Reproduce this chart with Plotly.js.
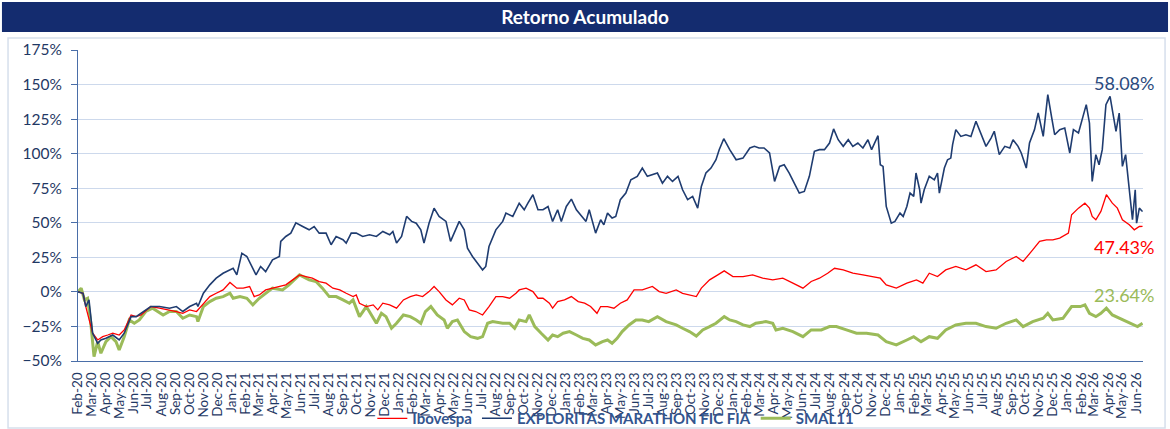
<!DOCTYPE html>
<html>
<head>
<meta charset="utf-8">
<script src="https://cdn.plot.ly/plotly-3.0.1.min.js"></script>
<style>
  html, body { margin: 0; padding: 0; background: #fff; }
  #chart { width: 1170px; height: 429px; }
</style>
</head>
<body>
<div id="chart"></div>
<script>
// [months since 1 Feb 2020, cumulative return %]
const ibovespa = [
  [0, 0], [0.38, -1.0], [0.62, -10.6], [1.10, -29.9], [1.46, -34.8], [1.82, -32.4], [2.18, -31.2], [2.54, -29.9],
  [3.02, -31.2], [3.37, -27.5], [3.85, -16.7], [4.21, -17.9], [4.57, -16.7], [5.29, -10.6], [5.89, -11.8], [6.60, -13.0],
  [7.08, -14.2], [7.56, -15.5], [8.04, -13.0], [8.52, -14.2], [9.00, -8.2], [9.48, -3.4], [9.95, -1.0], [10.43, 1.4],
  [10.91, 6.8], [11.39, 2.7], [11.87, 2.7], [12.35, 3.9], [12.71, -3.4], [13.07, -2.2], [13.54, 1.4], [14.02, 2.7],
  [14.50, 3.9], [14.98, 5.1], [15.46, 8.7], [15.94, 12.3], [16.42, 11.1], [16.89, 9.9], [17.37, 7.5], [17.85, 6.3],
  [18.33, 2.7], [18.81, 1.4], [19.29, -1.0], [19.77, -3.4], [20.01, -2.2], [20.25, -8.2], [20.72, -10.6], [21.20, -9.4],
  [21.56, -13.0], [21.92, -8.2], [22.40, -9.4], [22.88, -11.8], [23.36, -5.8], [23.84, -3.4], [24.31, -2.2], [24.79, -3.4],
  [25.27, 0.2], [25.63, 3.9], [25.99, 0.2], [26.47, -5.8], [26.95, -9.4], [27.42, -4.6], [27.78, -5.8], [28.14, -13.0],
  [28.62, -14.2], [29.10, -16.7], [29.58, -10.6], [30.05, -3.4], [30.53, -3.4], [31.01, -4.6], [31.49, -1.0], [31.73, 1.4],
  [32.21, 2.7], [32.69, 0.2], [33.05, -4.6], [33.41, -4.6], [33.89, -8.2], [34.12, -11.8], [34.48, -7.0], [34.96, -5.8],
  [35.44, -3.4], [35.92, -7.0], [36.40, -8.2], [36.88, -10.6], [37.35, -15.5], [37.59, -10.6], [38.07, -10.6], [38.55, -11.8],
  [39.03, -8.2], [39.51, -5.8], [39.99, 1.4], [40.59, 1.4], [41.30, 3.9], [41.78, 0.2], [42.26, -1.0], [42.98, 1.4],
  [43.46, -1.0], [43.94, -2.2], [44.42, -3.4], [44.78, 2.7], [45.37, 8.7], [45.97, 12.3], [46.45, 15.2], [47.05, 11.1],
  [47.77, 11.1], [48.48, 12.3], [49.20, 9.9], [49.92, 8.7], [50.64, 9.9], [51.36, 6.3], [52.07, 2.7], [52.67, 7.5],
  [53.27, 9.9], [53.87, 13.5], [54.35, 17.1], [54.94, 15.9], [55.66, 13.5], [56.38, 12.3], [57.10, 11.1], [57.63, 9.9],
  [58.05, 5.1], [58.77, 2.7], [59.49, 6.3], [60.21, 8.7], [60.69, 6.3], [61.17, 13.5], [61.77, 11.1], [62.36, 15.9],
  [63.08, 18.4], [63.80, 15.9], [64.51, 19.6], [65.23, 14.7], [65.95, 15.9], [66.67, 22.0], [67.39, 25.6], [67.87, 22.0],
  [68.58, 30.4], [69.06, 36.5], [69.54, 37.7], [70.02, 37.7], [70.50, 38.9], [71.10, 42.5], [71.34, 55.8], [71.82, 60.6],
  [72.29, 64.2], [72.65, 60.6], [72.89, 54.6], [73.13, 52.2], [73.49, 58.2], [73.90, 70.3], [74.33, 64.2], [74.69, 60.6],
  [75.05, 52.2], [75.53, 48.5], [75.89, 44.9], [76.25, 47.3], [76.49, 47.4]
];

const exploritas = [
  [0, 0], [0.38, -1.0], [0.62, -10.6], [0.86, -5.8], [1.10, -29.9], [1.46, -37.2], [1.70, -34.8], [2.06, -33.6],
  [2.54, -31.2], [3.02, -34.8], [3.37, -29.9], [3.85, -17.9], [4.21, -17.9], [4.57, -15.5], [5.29, -10.6], [5.89, -10.6],
  [6.60, -11.8], [7.08, -10.6], [7.56, -14.2], [8.04, -10.6], [8.52, -8.2], [8.64, -10.6], [9.00, -1.0], [9.48, 5.1],
  [9.95, 9.9], [10.43, 13.5], [11.15, 17.1], [11.39, 12.3], [11.75, 28.0], [12.11, 25.6], [12.47, 18.4], [12.83, 12.3],
  [13.19, 18.4], [13.54, 14.7], [14.02, 23.2], [14.50, 25.6], [14.62, 36.5], [14.98, 40.1], [15.34, 42.5], [15.70, 50.0],
  [16.18, 47.3], [16.66, 44.9], [17.01, 47.3], [17.37, 42.5], [17.85, 42.5], [18.21, 34.1], [18.57, 40.1], [19.05, 37.7],
  [19.29, 35.3], [19.65, 42.5], [20.01, 42.5], [20.48, 40.1], [20.96, 41.3], [21.44, 40.1], [21.92, 43.7], [22.40, 41.3],
  [22.64, 43.7], [22.88, 35.3], [23.24, 40.1], [23.60, 54.6], [23.95, 51.0], [24.31, 49.7], [24.67, 44.9], [24.91, 35.3],
  [25.27, 49.7], [25.63, 60.6], [25.99, 54.6], [26.47, 51.0], [26.83, 36.5], [27.18, 44.9], [27.42, 51.0], [27.78, 44.9],
  [28.02, 31.6], [28.38, 25.6], [28.74, 20.8], [29.10, 15.9], [29.34, 18.4], [29.58, 32.8], [30.05, 44.9], [30.53, 51.0],
  [30.77, 57.0], [31.25, 54.6], [31.73, 64.2], [32.09, 59.4], [32.33, 64.2], [32.69, 70.3], [33.05, 59.4], [33.41, 59.4],
  [33.77, 61.8], [34.12, 51.0], [34.48, 59.4], [34.72, 51.0], [35.08, 61.8], [35.44, 67.1], [35.80, 59.4], [36.16, 54.6],
  [36.52, 51.0], [36.76, 59.4], [37.24, 42.5], [37.59, 52.2], [37.83, 48.5], [38.07, 57.0], [38.43, 53.4], [38.67, 54.6],
  [39.03, 66.7], [39.39, 71.5], [39.75, 81.1], [40.23, 83.6], [40.59, 89.6], [40.95, 83.6], [41.30, 84.8], [41.66, 86.0],
  [42.02, 78.7], [42.38, 83.6], [42.74, 79.9], [43.10, 83.6], [43.46, 73.9], [43.82, 66.7], [44.18, 69.1], [44.54, 60.6],
  [44.78, 76.3], [45.13, 86.0], [45.49, 89.6], [45.85, 95.6], [46.09, 102.9], [46.40, 110.8], [46.81, 102.9], [47.29, 95.6],
  [47.77, 96.8], [48.25, 104.1], [48.60, 105.3], [48.96, 104.1], [49.32, 104.1], [49.68, 100.5], [50.04, 79.9], [50.40, 90.8],
  [50.76, 92.0], [51.12, 86.0], [51.48, 78.7], [51.83, 71.5], [52.19, 72.7], [52.55, 83.6], [52.91, 101.7], [53.27, 102.9],
  [53.63, 102.9], [53.99, 107.7], [54.28, 117.9], [54.59, 110.1], [54.94, 105.3], [55.30, 110.1], [55.66, 105.3], [56.02, 107.7],
  [56.38, 104.1], [56.74, 110.1], [56.98, 102.9], [57.34, 111.3], [57.46, 113.0], [57.63, 92.0], [57.82, 90.8], [58.05, 61.8],
  [58.41, 49.7], [58.65, 51.0], [59.01, 57.0], [59.25, 54.6], [59.49, 61.8], [59.73, 71.5], [59.97, 69.1], [60.16, 86.0],
  [60.45, 73.9], [60.57, 64.2], [60.81, 73.9], [61.17, 83.6], [61.53, 81.1], [61.77, 86.0], [61.88, 71.5], [62.24, 89.6],
  [62.48, 95.6], [62.72, 96.8], [62.84, 106.5], [63.08, 117.4], [63.44, 112.5], [63.80, 113.7], [64.16, 112.5], [64.51, 123.4],
  [64.87, 113.7], [65.23, 105.3], [65.59, 111.3], [65.83, 116.2], [66.19, 99.3], [66.55, 105.3], [66.91, 104.1], [67.15, 110.1],
  [67.51, 105.3], [67.75, 100.5], [68.10, 89.6], [68.34, 107.7], [68.70, 117.4], [68.94, 129.4], [69.30, 112.5], [69.66, 142.7],
  [69.90, 127.0], [70.14, 113.7], [70.50, 117.4], [70.86, 118.6], [71.22, 100.5], [71.46, 117.4], [71.82, 115.0], [72.17, 127.0],
  [72.41, 135.5], [72.65, 122.2], [72.89, 79.9], [73.13, 99.3], [73.37, 92.0], [73.61, 102.9], [73.85, 135.5], [74.14, 141.5],
  [74.45, 124.6], [74.57, 116.2], [74.81, 129.4], [75.05, 90.8], [75.29, 99.3], [75.48, 78.7], [75.65, 61.8], [75.77, 52.2],
  [75.94, 73.9], [76.06, 49.7], [76.25, 60.6], [76.49, 58.1]
];

const smal11 = [
  [0, 0], [0.26, 2.7], [0.50, -5.8], [0.74, -4.6], [0.98, -22.7], [1.22, -46.9], [1.46, -36.0], [1.70, -44.4],
  [2.06, -36.0], [2.42, -32.4], [2.78, -36.0], [3.02, -42.0], [3.37, -32.4], [3.73, -20.3], [4.09, -22.7], [4.45, -20.3],
  [4.93, -14.2], [5.41, -11.8], [6.13, -16.7], [6.60, -14.2], [7.08, -14.2], [7.56, -19.1], [8.04, -16.7], [8.52, -17.9],
  [8.64, -21.5], [9.00, -10.6], [9.48, -7.0], [9.95, -4.6], [10.43, -3.4], [10.91, -1.0], [11.15, -4.6], [11.63, -3.4],
  [12.11, -4.6], [12.59, -9.4], [13.07, -4.6], [13.54, -1.0], [14.02, 2.7], [14.74, 1.4], [15.22, 5.1], [15.94, 12.3],
  [16.66, 8.7], [17.13, 7.5], [17.61, 2.7], [18.09, -3.4], [18.57, -3.4], [19.05, -5.8], [19.53, -8.2], [19.77, -5.8],
  [20.25, -17.9], [20.72, -10.6], [21.08, -16.7], [21.44, -22.7], [21.80, -15.5], [22.16, -17.9], [22.52, -26.3], [22.88, -22.7],
  [23.36, -16.7], [23.84, -17.9], [24.31, -20.3], [24.67, -22.7], [25.03, -14.2], [25.39, -10.6], [25.87, -16.7], [26.35, -20.3],
  [26.59, -26.3], [26.95, -21.5], [27.30, -20.3], [27.78, -28.7], [28.26, -32.4], [28.74, -33.6], [29.10, -32.4], [29.46, -22.7],
  [29.82, -21.5], [30.53, -22.7], [31.01, -22.7], [31.37, -26.3], [31.73, -20.3], [32.21, -21.5], [32.45, -16.7], [32.81, -25.1],
  [33.29, -29.9], [33.77, -34.8], [34.12, -31.2], [34.48, -32.4], [34.84, -29.9], [35.32, -28.7], [35.80, -31.2], [36.28, -33.6],
  [36.76, -34.8], [37.24, -38.4], [37.71, -36.0], [38.07, -34.8], [38.43, -37.2], [38.79, -33.6], [39.15, -28.7], [39.63, -23.9],
  [40.10, -20.3], [40.59, -20.3], [41.06, -21.5], [41.66, -17.9], [42.26, -21.5], [42.98, -23.9], [43.46, -26.3], [43.94, -28.7],
  [44.42, -31.9], [44.90, -27.5], [45.37, -25.1], [45.85, -22.7], [46.45, -17.9], [46.81, -20.3], [47.29, -21.5], [47.77, -23.9],
  [48.25, -25.1], [48.72, -22.7], [49.44, -21.5], [49.92, -22.7], [50.16, -27.5], [50.64, -26.3], [51.36, -28.7], [52.07, -32.4],
  [52.67, -27.5], [53.39, -27.5], [53.99, -25.1], [54.47, -25.1], [55.18, -27.5], [55.90, -29.9], [56.62, -29.9], [57.46, -31.2],
  [58.05, -36.0], [58.77, -38.4], [59.49, -34.8], [59.97, -32.4], [60.57, -36.0], [61.17, -32.4], [61.77, -33.6], [62.36, -27.5],
  [63.08, -23.9], [63.80, -22.7], [64.51, -22.7], [65.23, -25.1], [65.95, -26.3], [66.67, -22.7], [67.39, -20.3], [67.87, -25.1],
  [68.58, -21.5], [69.30, -19.1], [69.66, -15.5], [70.02, -20.3], [70.74, -19.1], [71.34, -10.6], [71.94, -10.6], [72.29, -9.4],
  [72.65, -15.5], [73.13, -17.9], [73.49, -15.5], [73.90, -11.8], [74.33, -16.7], [74.81, -19.1], [75.29, -21.5], [75.77, -23.9],
  [76.13, -25.1], [76.49, -22.7]
];

const seriesNames = ['Ibovespa', 'EXPLORITAS MARATHON FIC FIA', 'SMAL11'];
const seriesColors = ['#ff0000', '#1f3c70', '#9bbb59'];
const endLabels = ['47.43%', '58.08%', '23.64%'];
const endLabelY = [32.8, 151.4, -2.2];

const navy = '#1f3864';

function monthToDate(m) {
  const whole = Math.floor(m);
  const start = Date.UTC(2020, 1 + whole, 1);
  const end = Date.UTC(2020, 2 + whole, 1);
  return new Date(start + (m - whole) * (end - start)).toISOString().slice(0, 10);
}

const allSeries = [ibovespa, exploritas, smal11];
const widths = [1.3, 1.6, 3];

const traces = allSeries.map((s, i) => ({
  name: seriesNames[i],
  type: 'scatter',
  mode: 'lines',
  x: s.map(p => monthToDate(p[0])),
  y: s.map(p => p[1]),
  line: { color: seriesColors[i], width: widths[i] },
  hoverinfo: 'skip',
  legendrank: i + 1,
}));
// draw order: green below, red, blue on top
const plotOrder = [traces[2], traces[0], traces[1]];

const annotations = endLabels.map((t, i) => ({
  text: t,
  xref: 'paper', x: 1.0122, xanchor: 'right',
  yref: 'y', y: endLabelY[i], yanchor: 'middle',
  showarrow: false,
  font: { size: 18, color: i === 1 ? '#2b4a7d' : seriesColors[i] },
}));

const layout = {
  width: 1170,
  height: 429,
  margin: { l: 78, r: 27, t: 50, b: 68, autoexpand: false },
  paper_bgcolor: '#ffffff',
  plot_bgcolor: '#ffffff',
  font: { family: 'Lato, "Open Sans", sans-serif', color: navy },
  title: {
    text: '<b>Retorno Acumulado</b>',
    font: { size: 19, color: '#ffffff' },
    x: 0.5, xanchor: 'center',
    y: 1 - 17 / 429, yanchor: 'middle',
  },
  showlegend: true,
  legend: {
    orientation: 'h',
    x: 0.505, xanchor: 'center',
    y: -0.185, yanchor: 'middle',
    bgcolor: 'rgba(0,0,0,0)',
    font: { size: 15, color: '#33558f', weight: 'bold' },
    traceorder: 'normal',
    itemwidth: 30,
  },
  xaxis: {
    type: 'date',
    range: [monthToDate(0), monthToDate(76.5)],
    tick0: '2020-02-01',
    dtick: 'M1',
    tickformat: '%b-%y',
    tickangle: -90,
    tickfont: { size: 13.5, color: navy },
    ticklabelstandoff: 5,
    showgrid: false,
    showline: true,
    linecolor: '#4a6ea8',
    linewidth: 1,
    ticks: '',
    zeroline: false,
    fixedrange: true,
  },
  yaxis: {
    range: [-50, 175],
    dtick: 25,
    ticksuffix: '%',
    tickfont: { size: 15.5, color: navy },
    ticks: 'outside',
    ticklen: 6,
    tickcolor: '#4a6ea8',
    ticklabelstandoff: 6,
    showline: true,
    linecolor: '#4a6ea8',
    linewidth: 1,
    gridcolor: '#cdd9ec',
    gridwidth: 1,
    zeroline: false,
    fixedrange: true,
  },
  shapes: [
    {
      type: 'rect', layer: 'below',
      xref: 'paper', yref: 'paper',
      x0: -0.0714, x1: 1.0235, y0: 1.0579, y1: 1.1543,
      fillcolor: '#142c6f', line: { width: 0 },
    },
    {
      type: 'rect', layer: 'below',
      xref: 'paper', yref: 'paper',
      x0: -0.0657, x1: 1.0207, y0: -0.2154, y1: 1.0386,
      fillcolor: 'rgba(0,0,0,0)', line: { color: '#d6dfec', width: 1.5 },
    },
  ],
  annotations: annotations,
};

Plotly.newPlot('chart', plotOrder, layout, { displayModeBar: false, staticPlot: true });
</script>
</body>
</html>
